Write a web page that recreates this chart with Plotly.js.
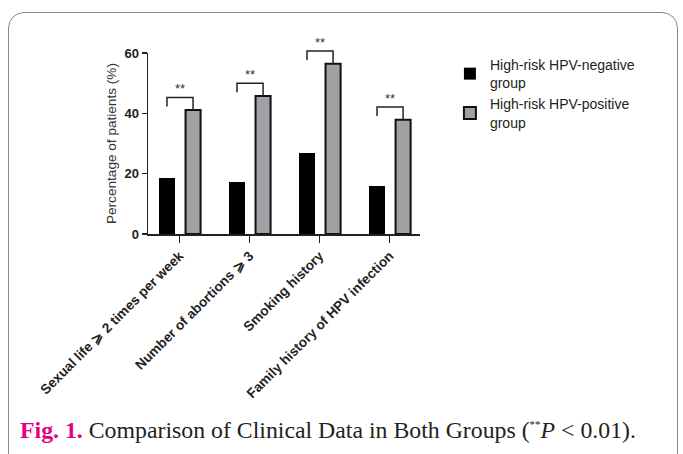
<!DOCTYPE html>
<html>
<head>
<meta charset="utf-8">
<script src="https://cdn.plot.ly/plotly-3.0.1.min.js"></script>
<style>
  html, body { margin: 0; padding: 0; background: #fff; }
  #wrap { position: relative; width: 683px; height: 454px; overflow: hidden; background: #fff; }
  #frame { position: absolute; left: 8px; top: 12px; width: 670px; height: 480px;
           border: 1.3px solid #8a8a8a; border-radius: 16px; pointer-events: none; box-sizing: border-box; }
  #chart { position: absolute; left: 0; top: 0; width: 683px; height: 454px; }
</style>
</head>
<body>
<div id="wrap">
  <div id="chart"></div>
  <div id="frame"></div>
</div>
<script>
// ---- data ----
const categories = ["Sexual life \u2A7E 2 times per week", "Number of abortions \u2A7E 3", "Smoking history", "Family history of HPV infection"];
const negValues = [18.7, 17.2, 26.8, 15.9];
const posValues = [41.1, 45.8, 56.5, 37.9];
const sigLabels = ["**", "**", "**", "**"];
const seriesNames = ["High-risk HPV-negative<br>group", "High-risk HPV-positive<br>group"];
const yTickVals = [0, 20, 40, 60];

// ---- style ----
const negOffset = -0.30, negWidth = 0.24;
const posOffset = 0.085, posWidth = 0.215;
const negCenter = negOffset + negWidth / 2;
const posCenter = posOffset + posWidth / 2;
const bracketGap = 4.2, legDrop = 3.0, starGap = 0.3;
const idx = categories.map((c, i) => i);

const traces = [
  { type: 'bar', name: seriesNames[0], x: idx, y: negValues, offset: negOffset, width: negWidth,
    marker: { color: '#000000', line: { color: '#000000', width: 0 } }, xaxis: 'x', yaxis: 'y' },
  { type: 'bar', name: seriesNames[1], x: idx, y: posValues, offset: posOffset, width: posWidth,
    marker: { color: '#a0a0a5', line: { color: '#111111', width: 2 } }, xaxis: 'x', yaxis: 'y' }
];

// significance brackets
const bx = [], by = [];
idx.forEach(i => {
  const top = posValues[i] + bracketGap;
  bx.push(i + negCenter, i + negCenter, i + posCenter, i + posCenter, null);
  by.push(top - legDrop, top, top, posValues[i], null);
});
traces.push({ type: 'scatter', mode: 'lines', x: bx, y: by, xaxis: 'x', yaxis: 'y2',
  line: { color: '#222', width: 1.5 }, showlegend: false, hoverinfo: 'skip' });
traces.push({ type: 'scatter', mode: 'text', xaxis: 'x', yaxis: 'y2',
  x: idx.map(i => i + (negCenter + posCenter) / 2),
  y: idx.map(i => posValues[i] + bracketGap + starGap),
  text: sigLabels, textposition: 'top center',
  textfont: { family: 'Liberation Sans, Arial, sans-serif', size: 13, color: '#333' },
  showlegend: false, hoverinfo: 'skip' });

const layout = {
  width: 683, height: 454,
  margin: { l: 148, r: 263, t: 35.3, b: 220 },
  paper_bgcolor: 'rgba(0,0,0,0)', plot_bgcolor: 'rgba(0,0,0,0)',
  font: { family: 'Liberation Sans, Arial, sans-serif', color: '#222' },
  showlegend: true,
  legend: { x: 1.11, y: 0.93, xanchor: 'left', yanchor: 'top', bgcolor: 'rgba(0,0,0,0)',
            font: { size: 14, color: '#222' }, tracegroupgap: 4, itemwidth: 30 },
  xaxis: { type: 'linear', range: [-0.451, 3.434], tickvals: idx, ticktext: categories,
           tickangle: -45, ticks: 'outside', ticklen: 7, tickwidth: 1.5, tickcolor: '#222',
           showline: true, linecolor: '#222', linewidth: 1.5, showgrid: false, zeroline: false,
           tickfont: { size: 13.6, color: '#222', weight: 'bold' }, anchor: 'y' },
  yaxis: { domain: [0, 60 / 66], range: [0, 60], tickvals: yTickVals, ticks: 'outside', ticklen: 5,
           tickwidth: 1.5, tickcolor: '#222', showline: true, linecolor: '#222', linewidth: 1.5,
           showgrid: false, zeroline: false, anchor: 'x',
           tickfont: { size: 13, color: '#222', weight: 'bold' },
           title: { text: 'Percentage of patients (%)', font: { size: 13.6, color: '#333' }, standoff: 4 } },
  yaxis2: { domain: [0, 1], range: [0, 66], visible: false, anchor: 'x', fixedrange: true },
  bargap: 0,
  annotations: [{
    xref: 'paper', yref: 'paper', x: -0.478, y: -0.987, xanchor: 'left', yanchor: 'middle',
    showarrow: false, align: 'left',
    font: { family: 'Liberation Serif, Times New Roman, serif', size: 23.8, color: '#222' },
    text: '<span style="color:#e4007f"><b>Fig. 1.</b></span> Comparison of Clinical Data in Both Groups (<sup><span style="font-size:11px">**</span></sup><i>P</i> &lt; 0.01).'
  }]
};

Plotly.newPlot('chart', traces, layout, { displayModeBar: false, staticPlot: true });
</script>
</body>
</html>
